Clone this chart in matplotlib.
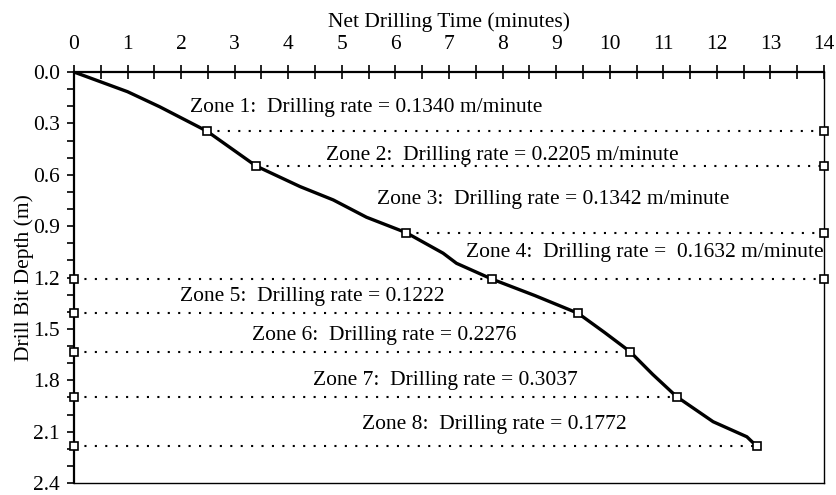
import matplotlib
matplotlib.use("Agg")
import matplotlib.pyplot as plt
from matplotlib.ticker import MultipleLocator

plt.rcParams['font.family'] = ['Liberation Serif', 'DejaVu Serif']

# ---- data ----
curve_time = [0.0, 1.0, 1.6, 2.48, 3.40, 4.22, 4.84, 5.46, 6.20, 6.89, 7.14, 7.80,
              8.6, 9.41, 9.9, 10.38, 10.8, 11.25, 11.93, 12.56, 12.74]
curve_depth = [0.0, 0.115, 0.203, 0.345, 0.549, 0.669, 0.747, 0.848, 0.938, 1.058, 1.117, 1.209,
               1.305, 1.409, 1.52, 1.633, 1.765, 1.896, 2.042, 2.130, 2.184]

boundary_time = [2.48, 3.40, 6.20, 7.80, 9.41, 10.38, 11.25, 12.74]
boundary_depth = [0.345, 0.549, 0.938, 1.209, 1.409, 1.633, 1.896, 2.184]

zone_labels = [
    "Zone 1:  Drilling rate = 0.1340 m/minute",
    "Zone 2:  Drilling rate = 0.2205 m/minute",
    "Zone 3:  Drilling rate = 0.1342 m/minute",
    "Zone 4:  Drilling rate =  0.1632 m/minute",
    "Zone 5:  Drilling rate = 0.1222",
    "Zone 6:  Drilling rate = 0.2276",
    "Zone 7:  Drilling rate = 0.3037",
    "Zone 8:  Drilling rate = 0.1772",
]

x_ticks = list(range(0, 15))
y_ticks = [0.0, 0.3, 0.6, 0.9, 1.2, 1.5, 1.8, 2.1, 2.4]

# ---- layout ----
label_pos = [(2.16, 0.21), (4.70, 0.485), (5.66, 0.747), (7.32, 1.055),
             (1.98, 1.312), (3.32, 1.536), (4.47, 1.80), (5.37, 2.06)]
FS = 15.5

fig = plt.figure(figsize=(8.37, 4.95), dpi=100)
ax = fig.add_axes([0.0884, 0.0242, 0.8961, 0.8303])

ax.set_xlim(0, 14)
ax.set_ylim(2.4, 0.0)

dot = (0, (1, 4))
mk = dict(marker='s', markersize=6, markerfacecolor='white', markeredgecolor='black',
          markeredgewidth=1.2, linestyle='none', clip_on=False, zorder=5)

# dotted boundary lines
for i, (t, d) in enumerate(zip(boundary_time, boundary_depth)):
    if i < 3:
        ax.plot([t, 14], [d, d], color='black', lw=1.5, linestyle=dot, zorder=2)
        ax.plot([14], [d], **mk)
    elif i == 3:
        ax.plot([0, 14], [d, d], color='black', lw=1.5, linestyle=dot, zorder=2)
        ax.plot([14], [d], **mk)
        ax.plot([0], [d], **mk)
    else:
        ax.plot([0, t], [d, d], color='black', lw=1.5, linestyle=dot, zorder=2)
        ax.plot([0], [d], **mk)

ax.plot(curve_time, curve_depth, color='black', lw=2.4, zorder=3, solid_joinstyle='round')
ax.plot(boundary_time, boundary_depth, **mk)

for lab, (x, y) in zip(zone_labels, label_pos):
    ax.text(x, y, lab, fontsize=FS, ha='left', va='center', color='black')

# axes styling
ax.xaxis.set_ticks_position('top')
ax.xaxis.set_label_position('top')
ax.set_xticks(x_ticks)
ax.set_xticklabels([str(v) for v in x_ticks])
ax.xaxis.set_minor_locator(MultipleLocator(0.5))
ax.tick_params(axis='x', which='both', direction='inout', length=10, width=1.2,
               labelsize=FS, pad=8)
ax.set_yticks(y_ticks)
ax.set_yticklabels([f"{v:.1f}" for v in y_ticks])
ax.yaxis.set_minor_locator(MultipleLocator(0.1))
ax.tick_params(axis='y', which='both', direction='out', length=5, width=1.2,
               labelsize=FS, pad=5)
ax.set_xlabel("Net Drilling Time (minutes)", fontsize=FS, labelpad=6)
ax.set_ylabel("Drill Bit Depth (m)", fontsize=FS, labelpad=-1)

for s in ['top', 'left']:
    ax.spines[s].set_linewidth(1.6)
for s in ['bottom', 'right']:
    ax.spines[s].set_linewidth(1.0)

fig.savefig("out.png", dpi=100)
